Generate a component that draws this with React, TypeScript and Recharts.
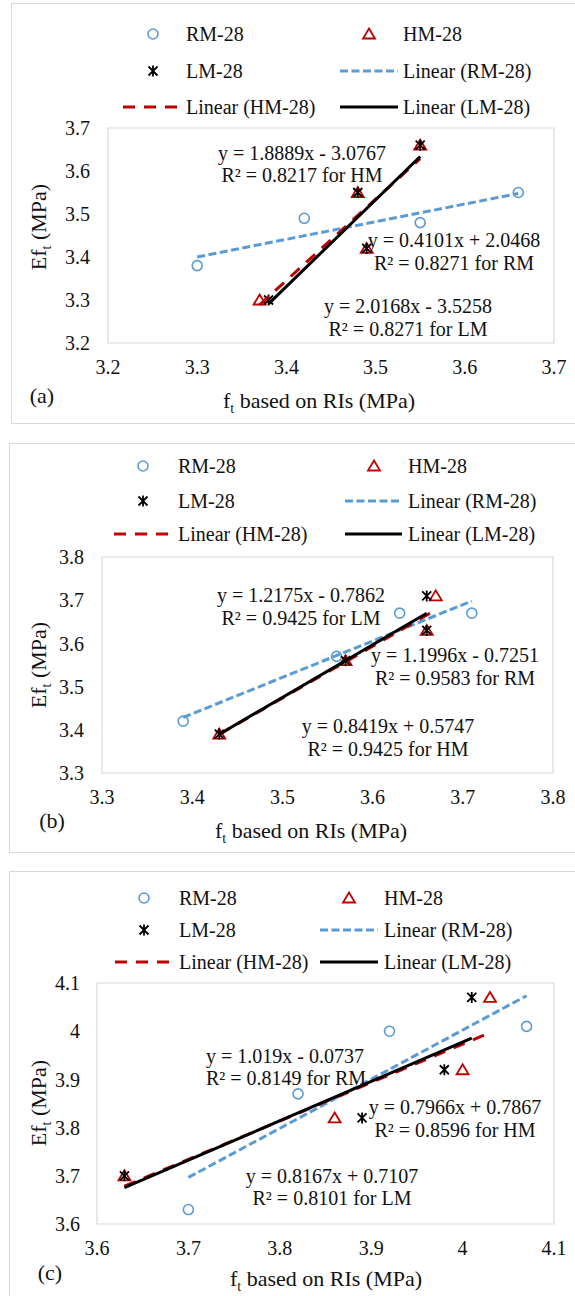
import React from 'react';
import { ScatterChart, Scatter, XAxis, YAxis, ReferenceArea } from 'recharts';

const FONT = '"Liberation Serif", "Times New Roman", Times, serif';
const BLUE = '#5B9BD5';
const RED = '#C00000';
const BLACK = '#000000';
const FRAME = '#D9D9D9';
const TEXT = '#111111';

// ---------- Panel (a) ----------
const ticksA = [3.2, 3.3, 3.4, 3.5, 3.6, 3.7];
const rmAx = [3.30, 3.42, 3.55, 3.66];
const rmAy = [3.38, 3.49, 3.48, 3.55];
const hmAx = [3.37, 3.48, 3.49, 3.55];
const hmAy = [3.30, 3.55, 3.42, 3.66];
const lmAx = [3.38, 3.48, 3.49, 3.55];
const lmAy = [3.30, 3.55, 3.42, 3.66];
const rmTrendAx = [3.30, 3.66];
const rmTrendAy = [3.4001, 3.5478];
const hmTrendAx = [3.37, 3.55];
const hmTrendAy = [3.2889, 3.6289];
const lmTrendAx = [3.38, 3.55];
const lmTrendAy = [3.2910, 3.6338];
const eqTextA = ['y = 1.8889x - 3.0767', 'R² = 0.8217 for HM', 'y = 0.4101x + 2.0468', 'R² = 0.8271 for RM', 'y = 2.0168x - 3.5258', 'R² = 0.8271 for LM'];

// ---------- Panel (b) ----------
const ticksB = [3.3, 3.4, 3.5, 3.6, 3.7, 3.8];
const rmBx = [3.39, 3.56, 3.63, 3.71];
const rmBy = [3.42, 3.57, 3.67, 3.67];
const hmBx = [3.43, 3.57, 3.66, 3.67];
const hmBy = [3.39, 3.56, 3.63, 3.71];
const lmBx = [3.43, 3.57, 3.66, 3.66];
const lmBy = [3.39, 3.56, 3.63, 3.71];
const rmTrendBx = [3.39, 3.71];
const rmTrendBy = [3.4287, 3.6981];
const hmTrendBx = [3.43, 3.67];
const hmTrendBy = [3.3895, 3.6774];
const lmTrendBx = [3.43, 3.66];
const lmTrendBy = [3.3898, 3.6698];
const eqTextB = ['y = 1.2175x - 0.7862', 'R² = 0.9425 for LM', 'y = 1.1996x - 0.7251', 'R² = 0.9583 for RM', 'y = 0.8419x + 0.5747', 'R² = 0.9425 for HM'];

// ---------- Panel (c) ----------
const ticksC = [3.6, 3.7, 3.8, 3.9, 4.0, 4.1];
const rmCx = [3.70, 3.82, 3.92, 4.07];
const rmCy = [3.63, 3.87, 4.00, 4.01];
const hmCx = [3.63, 3.86, 4.00, 4.03];
const hmCy = [3.70, 3.82, 3.92, 4.07];
const lmCx = [3.63, 3.89, 3.98, 4.01];
const lmCy = [3.70, 3.82, 3.92, 4.07];
const rmTrendCx = [3.70, 4.07];
const rmTrendCy = [3.6966, 4.0736];
const hmTrendCx = [3.63, 4.03];
const hmTrendCy = [3.6784, 3.9970];
const lmTrendCx = [3.63, 4.01];
const lmTrendCy = [3.6753, 3.9857];
const eqTextC = ['y = 1.019x - 0.0737', 'R² = 0.8149 for RM', 'y = 0.7966x + 0.7867', 'R² = 0.8596 for HM', 'y = 0.8167x + 0.7107', 'R² = 0.8101 for LM'];

const legendLabels = ['RM-28', 'HM-28', 'LM-28', 'Linear (RM-28)', 'Linear (HM-28)', 'Linear (LM-28)'];
const panelLetters = ['(a)', '(b)', '(c)'];

const pts = (xs: number[], ys: number[]) => xs.map((x, i) => ({ x, y: ys[i] }));
const fmt = (v: number) => String(Number(v.toFixed(1)));

// ---------- marker shapes ----------
const CircleMark = (p: any) => (
  <circle cx={p.cx} cy={p.cy} r={5} fill="none" stroke={BLUE} strokeWidth={1.6} />
);
const TriMark = (p: any) => (
  <path
    d={`M${p.cx},${p.cy - 5.5} L${p.cx + 6},${p.cy + 4.5} L${p.cx - 6},${p.cy + 4.5} Z`}
    fill="none"
    stroke={RED}
    strokeWidth={1.8}
  />
);
const StarMark = (p: any) => (
  <path
    d={`M${p.cx - 4.5},${p.cy - 4.5} L${p.cx + 4.5},${p.cy + 4.5} M${p.cx + 4.5},${p.cy - 4.5} L${p.cx - 4.5},${p.cy + 4.5} M${p.cx},${p.cy - 5.5} L${p.cx},${p.cy + 5.5}`}
    fill="none"
    stroke={BLACK}
    strokeWidth={1.8}
  />
);
const NoMark = () => <g />;

const BLUE_LINE = { stroke: BLUE, strokeWidth: 3, strokeDasharray: '8 3.5' };
const RED_LINE = { stroke: RED, strokeWidth: 3, strokeDasharray: '12 9' };
const BLACK_LINE = { stroke: BLACK, strokeWidth: 3 };

type Panel = {
  top: number;
  height: number;
  plotLeft: number;
  plotRight: number;
  plotTop: number;
  plotBottom: number;
  ticks: number[];
  rm: { x: number; y: number }[];
  hm: { x: number; y: number }[];
  lm: { x: number; y: number }[];
  rmT: { x: number; y: number }[];
  hmT: { x: number; y: number }[];
  lmT: { x: number; y: number }[];
  yTickMargin: number;
  frame: { left: number; top: number; height: number };
  legendRows: number[];
  legendMarkX: number[];
  legendTextX: number[];
  legendLine1: number[];
  legendLine2: number[];
  eqText: string[];
  eqPos: number[][];
  yTitle: number[];
  xTitle: number[];
  letter: number[];
};

const panels: Panel[] = [
  {
    top: 0, height: 430, plotLeft: 108, plotRight: 554, plotTop: 128, plotBottom: 343,
    ticks: ticksA,
    rm: pts(rmAx, rmAy), hm: pts(hmAx, hmAy), lm: pts(lmAx, lmAy),
    rmT: pts(rmTrendAx, rmTrendAy), hmT: pts(hmTrendAx, hmTrendAy), lmT: pts(lmTrendAx, lmTrendAy),
    yTickMargin: 18,
    frame: { left: 11, top: 3, height: 421 },
    legendRows: [34, 71, 107], legendMarkX: [153, 369], legendTextX: [186, 403],
    legendLine1: [123, 180], legendLine2: [340, 398],
    eqText: eqTextA,
    eqPos: [[302, 153], [302, 175], [454, 240], [454, 263], [408, 306], [408, 329]],
    yTitle: [38, 227], xTitle: [319, 400], letter: [42, 395],
  },
  {
    top: 430, height: 430, plotLeft: 102, plotRight: 553, plotTop: 557, plotBottom: 773,
    ticks: ticksB,
    rm: pts(rmBx, rmBy), hm: pts(hmBx, hmBy), lm: pts(lmBx, lmBy),
    rmT: pts(rmTrendBx, rmTrendBy), hmT: pts(hmTrendBx, hmTrendBy), lmT: pts(lmTrendBx, lmTrendBy),
    yTickMargin: 18,
    frame: { left: 9, top: 443, height: 410 },
    legendRows: [466, 501, 534], legendMarkX: [143, 374], legendTextX: [178, 408],
    legendLine1: [114, 170], legendLine2: [345, 402],
    eqText: eqTextB,
    eqPos: [[301, 595], [301, 618], [455, 655], [455, 678], [388, 726], [388, 749]],
    yTitle: [38, 665], xTitle: [311, 830], letter: [52, 820],
  },
  {
    top: 860, height: 436, plotLeft: 97, plotRight: 554, plotTop: 983, plotBottom: 1224,
    ticks: ticksC,
    rm: pts(rmCx, rmCy), hm: pts(hmCx, hmCy), lm: pts(lmCx, lmCy),
    rmT: pts(rmTrendCx, rmTrendCy), hmT: pts(hmTrendCx, hmTrendCy), lmT: pts(lmTrendCx, lmTrendCy),
    yTickMargin: 17,
    frame: { left: 9, top: 871, height: 440 },
    legendRows: [898, 930, 962], legendMarkX: [144, 349], legendTextX: [179, 384],
    legendLine1: [115, 172], legendLine2: [320, 378],
    eqText: eqTextC,
    eqPos: [[285, 1056], [286, 1078], [455, 1107], [455, 1130], [332, 1176], [332, 1198]],
    yTitle: [38, 1103], xTitle: [326, 1278], letter: [50, 1272],
  },
];

const tickStyle = { fontSize: 20, fontFamily: FONT, fill: TEXT };

function PanelChart({ p }: { p: Panel }) {
  const lo = p.ticks[0];
  const hi = p.ticks[p.ticks.length - 1];
  const xAxisH = 30;
  const margin = {
    top: p.plotTop - p.top,
    right: 575 - p.plotRight,
    bottom: p.top + p.height - p.plotBottom - xAxisH,
    left: 0,
  };
  return (
    <div style={{ position: 'absolute', left: 0, top: p.top, width: 575, height: p.height }}>
      <ScatterChart width={575} height={p.height} margin={margin}>
        <XAxis
          type="number"
          dataKey="x"
          domain={[lo, hi]}
          ticks={p.ticks}
          interval={0}
          allowDataOverflow
          axisLine={false}
          tickLine={false}
          tickSize={0}
          tickMargin={17}
          height={xAxisH}
          tickFormatter={fmt}
          tick={tickStyle}
        />
        <YAxis
          type="number"
          dataKey="y"
          domain={[lo, hi]}
          ticks={p.ticks}
          interval={0}
          allowDataOverflow
          axisLine={false}
          tickLine={false}
          tickSize={0}
          tickMargin={p.yTickMargin}
          width={p.plotLeft}
          tickFormatter={fmt}
          tick={tickStyle}
        />
        <ReferenceArea x1={lo} x2={hi} y1={lo} y2={hi} fill="none" fillOpacity={0} stroke={FRAME} strokeWidth={1.2} ifOverflow="visible" />
        <Scatter name="RM-28" data={p.rm} shape={CircleMark} isAnimationActive={false} />
        <Scatter name="HM-28" data={p.hm} shape={TriMark} isAnimationActive={false} />
        <Scatter name="LM-28" data={p.lm} shape={StarMark} isAnimationActive={false} />
        <Scatter name="Linear (RM-28)" data={p.rmT} shape={NoMark} line={BLUE_LINE} isAnimationActive={false} />
        <Scatter name="Linear (HM-28)" data={p.hmT} shape={NoMark} line={RED_LINE} isAnimationActive={false} />
        <Scatter name="Linear (LM-28)" data={p.lmT} shape={NoMark} line={BLACK_LINE} isAnimationActive={false} />
      </ScatterChart>
    </div>
  );
}

function PanelOverlay({ p, idx }: { p: Panel; idx: number }) {
  const [r0, r1, r2] = p.legendRows;
  const [m1, m2] = p.legendMarkX;
  const [t1, t2] = p.legendTextX;
  const txt = (x: number, y: number, s: string, key: string) => (
    <text key={key} x={x} y={y} dy="0.35em" fontSize={20} fontFamily={FONT} fill={TEXT}>{s}</text>
  );
  return (
    <g>
      {/* legend */}
      <CircleMark cx={m1} cy={r0} />
      {txt(t1, r0, legendLabels[0], 'l0')}
      <TriMark cx={m2} cy={r0} />
      {txt(t2, r0, legendLabels[1], 'l1')}
      <StarMark cx={m1} cy={r1} />
      {txt(t1, r1, legendLabels[2], 'l2')}
      <line x1={p.legendLine2[0]} x2={p.legendLine2[1]} y1={r1} y2={r1} {...BLUE_LINE} />
      {txt(t2, r1, legendLabels[3], 'l3')}
      <line x1={p.legendLine1[0]} x2={p.legendLine1[1]} y1={r2} y2={r2} {...RED_LINE} />
      {txt(t1, r2, legendLabels[4], 'l4')}
      <line x1={p.legendLine2[0]} x2={p.legendLine2[1]} y1={r2} y2={r2} {...BLACK_LINE} />
      {txt(t2, r2, legendLabels[5], 'l5')}

      {/* trend-line equations */}
      {p.eqText.map((s, i) => (
        <text key={'eq' + i} x={p.eqPos[i][0]} y={p.eqPos[i][1]} dy="0.35em" textAnchor="middle" fontSize={20} fontFamily={FONT} fill={TEXT}>
          {s}
        </text>
      ))}

      {/* y-axis title */}
      <text
        transform={`translate(${p.yTitle[0]},${p.yTitle[1]}) rotate(-90)`}
        x={0}
        y={0}
        dy="0.35em"
        textAnchor="middle"
        fontSize={22}
        fontFamily={FONT}
        fill={TEXT}
      >
        Ef<tspan fontSize={14} dy={5}>t</tspan><tspan dy={-5}> (MPa)</tspan>
      </text>

      {/* x-axis title */}
      <text x={p.xTitle[0]} y={p.xTitle[1]} dy="0.35em" textAnchor="middle" fontSize={22} fontFamily={FONT} fill={TEXT}>
        f<tspan fontSize={14} dy={5}>t</tspan><tspan dy={-5}> based on RIs (MPa)</tspan>
      </text>

      {/* panel letter */}
      <text x={p.letter[0]} y={p.letter[1]} dy="0.35em" textAnchor="middle" fontSize={22} fontFamily={FONT} fill={TEXT}>
        {panelLetters[idx]}
      </text>
    </g>
  );
}

export default function App() {
  return (
    <div
      style={{
        position: 'absolute',
        left: 0,
        top: 0,
        width: 575,
        height: 1296,
        overflow: 'hidden',
        background: '#ffffff',
        fontFamily: FONT,
      }}
    >
      {panels.map((p, i) => (
        <div
          key={'frame' + i}
          style={{
            position: 'absolute',
            left: p.frame.left,
            top: p.frame.top,
            width: 600,
            height: p.frame.height,
            border: `1.5px solid ${FRAME}`,
            boxSizing: 'border-box',
          }}
        />
      ))}
      {panels.map((p, i) => (
        <PanelChart key={'chart' + i} p={p} />
      ))}
      <svg
        width={575}
        height={1296}
        style={{ position: 'absolute', left: 0, top: 0, pointerEvents: 'none' }}
      >
        {panels.map((p, i) => (
          <PanelOverlay key={'ov' + i} p={p} idx={i} />
        ))}
      </svg>
    </div>
  );
}
